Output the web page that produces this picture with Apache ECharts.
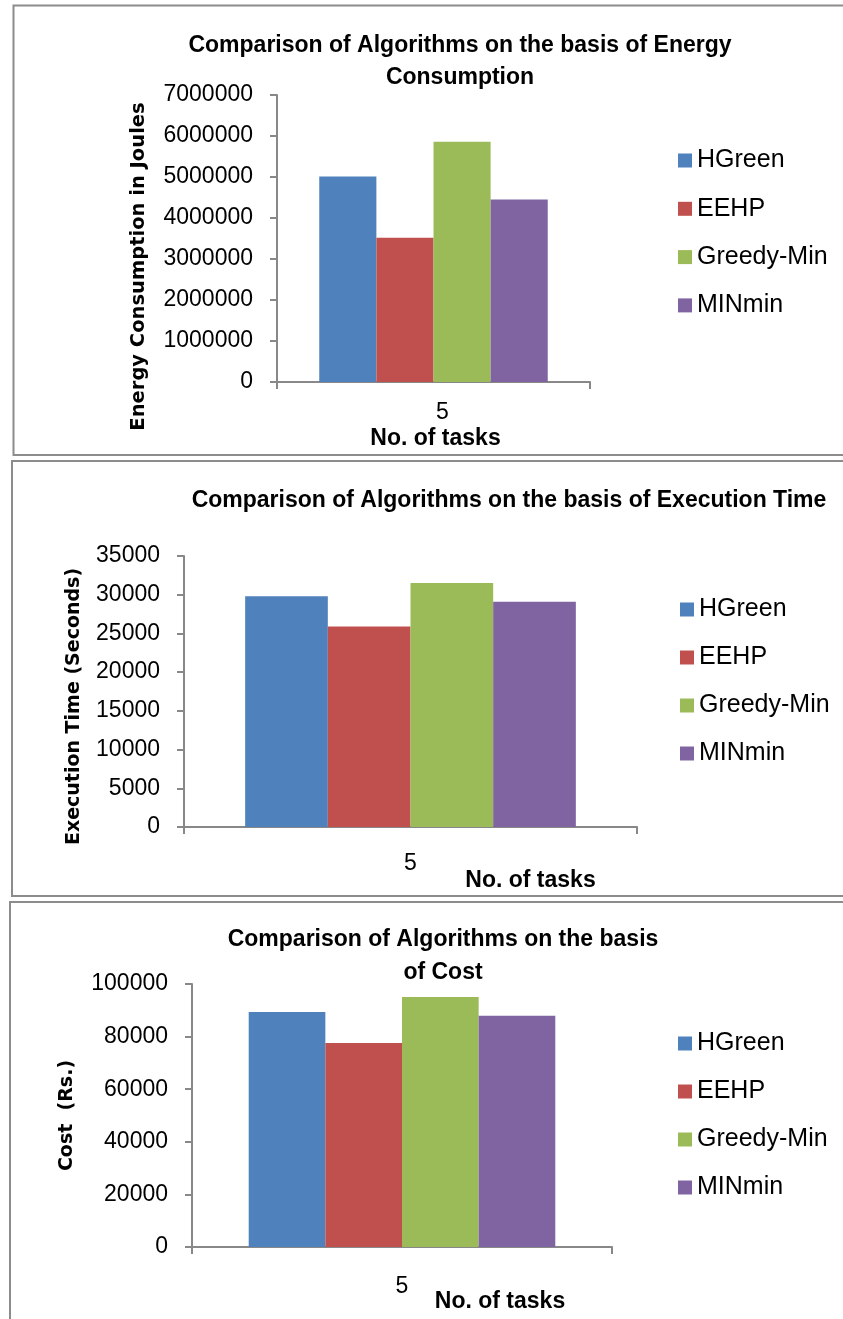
<!DOCTYPE html>
<html>
<head>
<meta charset="utf-8">
<script src="https://cdn.jsdelivr.net/npm/echarts@6/dist/echarts.min.js"></script>
<style>
  html, body { margin: 0; padding: 0; background: #fff; }
  #chart { width: 843px; height: 1319px; }
</style>
</head>
<body>
<div id="chart"></div>
<script>
// ---- data ----
const categories = ['5'];
const seriesNames = ['HGreen', 'EEHP', 'Greedy-Min', 'MINmin'];
const energyValues = [5010000, 3520000, 5860000, 4450000];
const execTimeValues = [29800, 25900, 31500, 29100];
const costValues = [89400, 77600, 95100, 87900];

const titles = [
  'Comparison of Algorithms on the basis of Energy\nConsumption',
  'Comparison of Algorithms on the basis of Execution Time',
  'Comparison of Algorithms on the basis\nof Cost'
];
const yNames = ['Energy Consumption in Joules', 'Execution Time (Seconds)', 'Cost  (Rs.)'];
const xName = 'No. of tasks';
const yMax = [7000000, 35000, 100000];
const yInterval = [1000000, 5000, 20000];

// ---- styling / layout ----
const colors = ['#4F81BD', '#C0504D', '#9BBB59', '#8064A2'];
const axisColor = '#888888';
const tickFont = 'Liberation Sans';

const grids = [
  { left: 277, top: 95, width: 313, height: 287 },
  { left: 184, top: 556, width: 453, height: 271 },
  { left: 192, top: 984, width: 420, height: 263 }
];
const titlePos = [
  { left: 460, top: 30, lineHeight: 32 },
  { left: 509, top: 485, lineHeight: 32 },
  { left: 443, top: 923, lineHeight: 33 }
];
const legendPos = [
  { left: 678, top: 148, gap: 23.3 },
  { left: 680, top: 597, gap: 23 },
  { left: 678, top: 1031, gap: 23 }
];
const yNameCfg = [
  { gap: 128, size: 19.5, pad: [0, 56, 0, 0] },
  { gap: 100, size: 19, pad: [0, 30, 0, 0] },
  { gap: 115, size: 19, pad: [0, 0, 0, 0] }
];
const xNameCfg = [
  { gap: 45, pad: [0, 0, 0, 4] },
  { gap: 42, pad: [0, 0, 0, 240] },
  { gap: 43, pad: [0, 0, 0, 196] }
];
const xLabelCfg = [
  { margin: 19, pad: [0, 0, 0, 18] },
  { margin: 25, pad: [0, 0, 0, 0] },
  { margin: 28, pad: [0, 0, 0, 0] }
];
const panelBoxes = [
  { x: 13.5, y: 5.5, h: 449.5 },
  { x: 12, y: 461, h: 435 },
  { x: 10, y: 902, h: 500 }
];
const dataSets = [energyValues, execTimeValues, costValues];

const option = {
  animation: false,
  backgroundColor: '#ffffff',
  graphic: panelBoxes.map(b => ({
    type: 'rect',
    shape: { x: b.x, y: b.y, width: 900, height: b.h },
    style: { fill: 'none', stroke: '#8c8c8c', lineWidth: 2 },
    silent: true,
    z: -1
  })),
  title: titles.map((t, i) => ({
    text: t,
    left: titlePos[i].left,
    top: titlePos[i].top,
    textAlign: 'center',
    padding: 0,
    textStyle: {
      fontFamily: 'Liberation Sans',
      fontWeight: 'bold',
      fontSize: 23,
      lineHeight: titlePos[i].lineHeight,
      color: '#000'
    }
  })),
  legend: legendPos.map((p, i) => ({
    data: seriesNames,
    orient: 'vertical',
    left: p.left,
    top: p.top,
    itemWidth: 14,
    itemHeight: 14,
    itemGap: p.gap,
    icon: 'rect',
    selectedMode: false,
    padding: 0,
    textStyle: { fontFamily: tickFont, fontSize: 25, lineHeight: 24, color: '#000' }
  })),
  grid: grids.map(g => Object.assign({ containLabel: false, outerBoundsMode: 'none' }, g)),
  xAxis: grids.map((g, i) => ({
    type: 'category',
    gridIndex: i,
    data: categories,
    name: xName,
    nameLocation: 'middle',
    nameGap: xNameCfg[i].gap,
    nameMoveOverlap: false,
    nameTextStyle: {
      fontFamily: 'Liberation Sans', fontWeight: 'bold', fontSize: 23,
      color: '#000', padding: xNameCfg[i].pad
    },
    axisLine: { show: true, lineStyle: { color: axisColor, width: 2 } },
    axisTick: { show: true, length: 7, lineStyle: { color: axisColor, width: 2 } },
    axisLabel: {
      margin: xLabelCfg[i].margin, padding: xLabelCfg[i].pad,
      fontFamily: tickFont, fontSize: 23, color: '#000'
    },
    splitLine: { show: false }
  })),
  yAxis: grids.map((g, i) => ({
    type: 'value',
    gridIndex: i,
    min: 0,
    max: yMax[i],
    interval: yInterval[i],
    name: yNames[i],
    nameLocation: 'middle',
    nameGap: yNameCfg[i].gap,
    nameMoveOverlap: false,
    nameRotate: 90,
    nameTextStyle: {
      fontFamily: 'DejaVu Sans', fontWeight: 'bold', fontSize: yNameCfg[i].size,
      color: '#000', padding: yNameCfg[i].pad
    },
    axisLine: { show: true, lineStyle: { color: axisColor, width: 2 } },
    axisTick: { show: true, length: 7, lineStyle: { color: axisColor, width: 2 } },
    axisLabel: {
      margin: 24, fontFamily: tickFont, fontSize: 23, color: '#000',
      formatter: v => String(v)
    },
    splitLine: { show: false }
  })),
  series: []
};

dataSets.forEach((vals, gi) => {
  seriesNames.forEach((name, si) => {
    option.series.push({
      type: 'bar',
      name: name,
      xAxisIndex: gi,
      yAxisIndex: gi,
      data: [vals[si]],
      barGap: '0%',
      barCategoryGap: '27%',
      itemStyle: { color: colors[si] }
    });
  });
});

const chart = echarts.init(document.getElementById('chart'), null, { renderer: 'canvas' });
chart.setOption(option);
</script>
</body>
</html>
